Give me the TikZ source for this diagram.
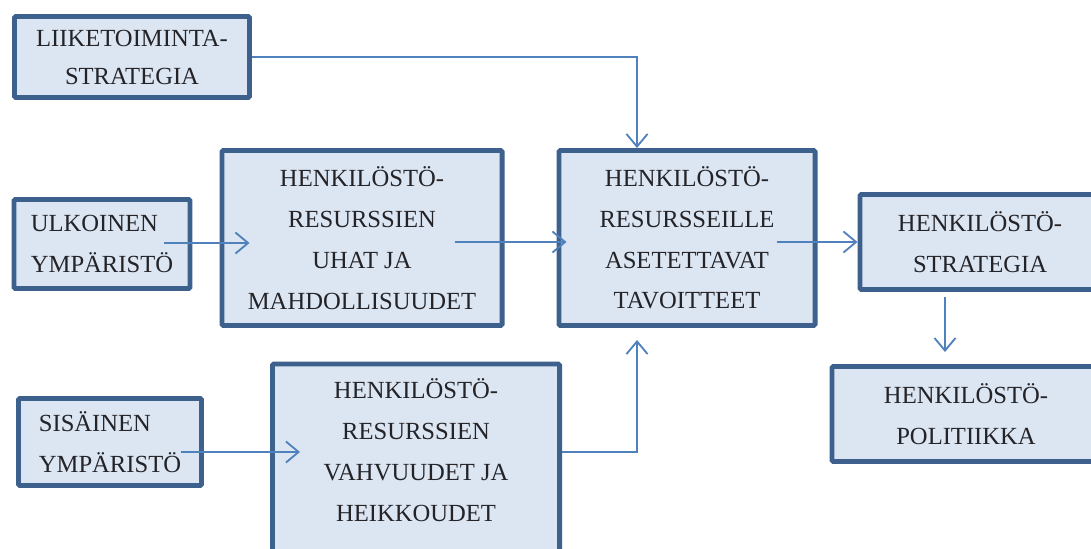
\documentclass[tikz,border=0pt]{standalone}
\usepackage{fontspec}
\setmainfont{Liberation Serif}
\usepackage{tikz}
\usetikzlibrary{calc}
\usetikzlibrary{arrows.meta}

\definecolor{boxfill}{RGB}{220,230,242}
\definecolor{boxline}{RGB}{62,96,141}
\definecolor{arrline}{RGB}{79,129,189}
\definecolor{txtcol}{RGB}{35,35,40}

\tikzset{
	box/.style={draw=boxline,fill=boxfill,line width=3.5pt,inner sep=0pt,rounded corners=1pt,
		text=txtcol,font=\fontsize{17.5}{29}\selectfont},
	arr/.style={draw=arrline,line width=1.3pt,-{Straight Barb[length=9pt,width=15pt,line width=1.3pt]}}
}

\begin{document}
\begin{tikzpicture}[x=0.025cm,y=-0.025cm]
			
			\useasboundingbox (0,0) rectangle (1091,548);
			
			\node[box,align=center,minimum width=5.875cm,minimum height=2.025cm,font=\fontsize{17.5}{27}\selectfont] (liike) at (132,57) {LIIKETOIMINTA-\\STRATEGIA};
			\node[box,align=left,minimum width=4.4cm,minimum height=2.225cm] (ulk) at (102,244) {ULKOINEN\\YMPÄRISTÖ};
			\node[box,align=center,minimum width=7.0cm,minimum height=4.375cm] (uhat) at (362,238) {HENKILÖSTÖ-\\RESURSSIEN\\UHAT JA\\MAHDOLLISUUDET};
			\node[box,align=center,minimum width=6.4cm,minimum height=4.375cm] (tav) at (687,238) {HENKILÖSTÖ-\\RESURSSEILLE\\ASETETTAVAT\\TAVOITTEET};
			\node[box,align=center,minimum width=6.0cm,minimum height=2.375cm] (hstrat) at (980,242) {HENKILÖSTÖ-\\STRATEGIA};
			\node[box,align=center,minimum width=6.7cm,minimum height=2.375cm] (hpol) at (966,414) {HENKILÖSTÖ-\\POLITIIKKA};
			\node[box,align=left,minimum width=4.575cm,minimum height=2.175cm] (sis) at (110,442) {SISÄINEN\\YMPÄRISTÖ};
			\node[box,align=center,minimum width=7.175cm,minimum height=5.0cm] (vahv) at (416,464) {HENKILÖSTÖ-\\RESURSSIEN\\VAHVUUDET JA\\HEIKKOUDET\\[-9pt]};
			
			\draw[arr] (liike.east) -| ($(tav.north)+(-50,0)$);
			\draw[arr] ($(ulk.east)+(-28,-1)$) -- ($(uhat.west)+(30,5)$);
			\draw[arr] ($(uhat.east)+(-50,4)$) -- ($(tav.west)+(10,4)$);
			\draw[arr] ($(tav.east)+(-41,4)$) -- (hstrat.west);
			\draw[arr] ($(hstrat.south)+(-35,5)$) -- ($(hpol.north)+(-21,-12)$);
			\draw[arr] ($(sis.east)+(-23,10)$) -- ($(vahv.west)+(30,-12)$);
			\draw[arr] ($(vahv.east)+(0,-12)$) -| ($(tav.south)+(-50,12)$);
			
		\end{tikzpicture}
\end{document}
